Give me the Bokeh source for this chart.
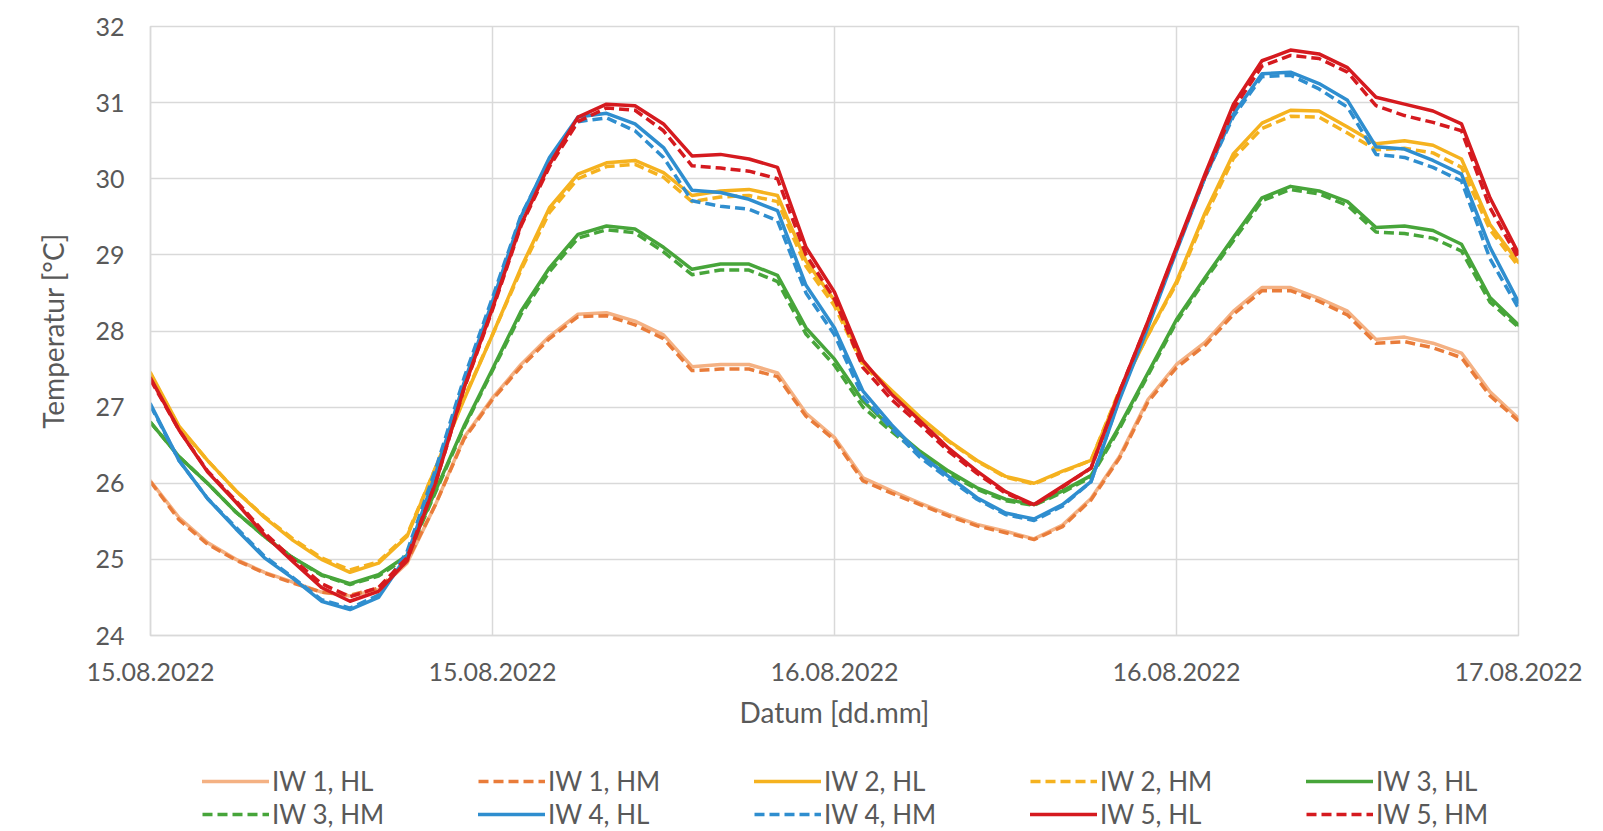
from bokeh.plotting import figure
from bokeh.layouts import column
from bokeh.models import FixedTicker, Legend, LegendItem
from bokeh.embed import file_html
from bokeh.resources import INLINE

# ---- data -------------------------------------------------------------
hours = list(range(49))  # hours since 15.08.2022 00:00
tick_hours = [0, 12, 24, 36, 48]
tick_labels = ["15.08.2022", "15.08.2022", "16.08.2022", "16.08.2022", "17.08.2022"]
y_ticks = [24, 25, 26, 27, 28, 29, 30, 31, 32]

iw1_hl = [26.03, 25.55, 25.22, 25.00, 24.83, 24.70, 24.57, 24.52, 24.60, 24.95,
          25.72, 26.60, 27.12, 27.56, 27.93, 28.22, 28.24, 28.13, 27.95, 27.53,
          27.56, 27.56, 27.45, 26.92, 26.60, 26.07, 25.90, 25.74, 25.59, 25.46,
          25.37, 25.27, 25.45, 25.80, 26.35, 27.10, 27.56, 27.85, 28.26, 28.57,
          28.57, 28.43, 28.26, 27.89, 27.92, 27.84, 27.71, 27.20, 26.85]
iw1_hm = [26.02, 25.52, 25.20, 24.99, 24.82, 24.69, 24.57, 24.53, 24.62, 24.97,
          25.72, 26.58, 27.10, 27.53, 27.90, 28.19, 28.20, 28.08, 27.90, 27.48,
          27.50, 27.50, 27.40, 26.88, 26.57, 26.03, 25.87, 25.72, 25.57, 25.44,
          25.35, 25.26, 25.43, 25.78, 26.33, 27.07, 27.52, 27.81, 28.22, 28.53,
          28.53, 28.39, 28.21, 27.84, 27.86, 27.78, 27.65, 27.15, 26.82]
iw2_hl = [27.45, 26.75, 26.30, 25.90, 25.55, 25.25, 25.00, 24.83, 24.95, 25.30,
          26.20, 27.10, 27.95, 28.83, 29.62, 30.06, 30.21, 30.24, 30.08, 29.78,
          29.84, 29.86, 29.78, 28.92, 28.40, 27.58, 27.22, 26.87, 26.56, 26.30,
          26.09, 26.00, 26.16, 26.30, 27.20, 27.95, 28.65, 29.55, 30.33, 30.73,
          30.90, 30.89, 30.68, 30.46, 30.50, 30.44, 30.26, 29.40, 28.90]
iw2_hm = [27.43, 26.74, 26.30, 25.90, 25.56, 25.27, 25.02, 24.86, 24.97, 25.32,
          26.20, 27.12, 27.95, 28.80, 29.56, 30.00, 30.16, 30.19, 30.02, 29.70,
          29.76, 29.78, 29.70, 28.85, 28.33, 27.55, 27.20, 26.85, 26.55, 26.29,
          26.08, 25.99, 26.15, 26.30, 27.22, 27.95, 28.62, 29.50, 30.27, 30.66,
          30.82, 30.81, 30.60, 30.38, 30.40, 30.34, 30.15, 29.33, 28.85]
iw3_hl = [26.80, 26.35, 26.00, 25.62, 25.30, 25.02, 24.80, 24.68, 24.80, 25.05,
          25.90, 26.75, 27.50, 28.26, 28.83, 29.27, 29.38, 29.34, 29.10, 28.81,
          28.88, 28.88, 28.73, 28.04, 27.63, 27.08, 26.73, 26.42, 26.16, 25.94,
          25.79, 25.72, 25.90, 26.10, 26.75, 27.45, 28.15, 28.70, 29.23, 29.75,
          29.90, 29.84, 29.70, 29.36, 29.38, 29.32, 29.14, 28.44, 28.08]
iw3_hm = [26.80, 26.35, 26.00, 25.62, 25.30, 25.02, 24.79, 24.67, 24.78, 25.03,
          25.88, 26.73, 27.48, 28.22, 28.78, 29.22, 29.33, 29.29, 29.04, 28.74,
          28.80, 28.80, 28.65, 27.96, 27.55, 27.00, 26.68, 26.38, 26.13, 25.92,
          25.77, 25.71, 25.88, 26.08, 26.72, 27.42, 28.12, 28.67, 29.19, 29.71,
          29.86, 29.80, 29.65, 29.30, 29.28, 29.22, 29.05, 28.38, 28.05]
iw4_hl = [27.04, 26.30, 25.80, 25.40, 25.02, 24.75, 24.45, 24.34, 24.50, 25.05,
          26.12, 27.32, 28.39, 29.50, 30.28, 30.81, 30.86, 30.72, 30.41, 29.85,
          29.82, 29.73, 29.58, 28.60, 28.04, 27.21, 26.77, 26.38, 26.09, 25.81,
          25.61, 25.53, 25.72, 26.02, 27.10, 28.05, 29.05, 30.02, 30.85, 31.38,
          31.40, 31.25, 31.03, 30.42, 30.39, 30.24, 30.06, 29.10, 28.38]
iw4_hm = [27.02, 26.30, 25.80, 25.42, 25.04, 24.76, 24.47, 24.36, 24.53, 25.10,
          26.18, 27.38, 28.44, 29.52, 30.25, 30.75, 30.80, 30.63, 30.28, 29.71,
          29.64, 29.60, 29.45, 28.50, 27.95, 27.13, 26.72, 26.34, 26.06, 25.79,
          25.59, 25.51, 25.70, 26.02, 27.12, 28.08, 29.08, 30.02, 30.82, 31.34,
          31.36, 31.18, 30.94, 30.32, 30.28, 30.15, 29.97, 28.95, 28.30]
iw5_hl = [27.38, 26.70, 26.15, 25.75, 25.32, 24.97, 24.63, 24.45, 24.58, 24.98,
          26.00, 27.25, 28.30, 29.40, 30.19, 30.81, 30.98, 30.96, 30.72, 30.30,
          30.32, 30.26, 30.15, 29.10, 28.51, 27.61, 27.17, 26.82, 26.46, 26.16,
          25.89, 25.72, 25.96, 26.20, 27.20, 28.13, 29.10, 30.06, 30.98, 31.55,
          31.69, 31.64, 31.46, 31.07, 30.98, 30.89, 30.72, 29.75, 29.02]
iw5_hm = [27.36, 26.70, 26.16, 25.77, 25.35, 25.00, 24.68, 24.51, 24.63, 25.02,
          26.00, 27.24, 28.28, 29.38, 30.16, 30.75, 30.93, 30.90, 30.63, 30.17,
          30.14, 30.10, 30.00, 29.00, 28.42, 27.52, 27.10, 26.77, 26.42, 26.13,
          25.87, 25.71, 25.95, 26.20, 27.20, 28.12, 29.08, 30.03, 30.92, 31.48,
          31.62, 31.58, 31.40, 30.96, 30.83, 30.74, 30.63, 29.62, 28.95]

series_names = ["IW 1, HL", "IW 1, HM", "IW 2, HL", "IW 2, HM", "IW 3, HL",
                "IW 3, HM", "IW 4, HL", "IW 4, HM", "IW 5, HL", "IW 5, HM"]
series_values = [iw1_hl, iw1_hm, iw2_hl, iw2_hm, iw3_hl,
                 iw3_hm, iw4_hl, iw4_hm, iw5_hl, iw5_hm]
series_colors = ["#F4B183", "#E97C3A", "#F5B21F", "#F5B21F", "#47A53A",
                 "#47A53A", "#2F8ECF", "#2F8ECF", "#D51A1F", "#D51A1F"]
series_dashed = [False, True, False, True, False, True, False, True, False, True]

# ---- styles -----------------------------------------------------------
TXT = "#595959"
GRID = "#D9D9D9"
FONT = "Lato"
LW = 3.5
DASH = "10 5"


def style_kw(col, dashed):
    if dashed:
        return dict(line_color=col, line_width=LW, line_dash=DASH, line_join="round")
    return dict(line_color=col, line_width=LW, line_join="round", line_cap="round")


# ---- main chart -------------------------------------------------------
p = figure(width=1600, height=760, output_backend="svg", toolbar_location=None,
           x_range=(0, 48), y_range=(24, 32),
           min_border_left=150, min_border_right=82,
           min_border_top=26, min_border_bottom=125)
p.background_fill_color = "white"
p.border_fill_color = "white"
p.outline_line_color = GRID
p.outline_line_width = 1.5

for vals, col, dashed in zip(series_values, series_colors, series_dashed):
    p.line(hours, vals, **style_kw(col, dashed))

p.xaxis.ticker = FixedTicker(ticks=tick_hours)
p.xaxis.major_label_overrides = {h: lab for h, lab in zip(tick_hours, tick_labels)}
p.yaxis.ticker = FixedTicker(ticks=y_ticks)
for ax in (p.xaxis[0], p.yaxis[0]):
    ax.axis_line_color = GRID
    ax.axis_line_width = 1.5
    ax.major_tick_line_color = None
    ax.minor_tick_line_color = None
    ax.major_tick_in = 0
    ax.major_tick_out = 0
    ax.minor_tick_in = 0
    ax.minor_tick_out = 0
    ax.major_label_text_font = FONT
    ax.major_label_text_font_size = "25px"
    ax.major_label_text_color = TXT
    ax.axis_label_text_font = FONT
    ax.axis_label_text_font_size = "28px"
    ax.axis_label_text_font_style = "normal"
    ax.axis_label_text_color = TXT

p.xaxis.axis_label = "Datum [dd.mm]"
p.yaxis.axis_label = "Temperatur [°C]"
p.xaxis.major_label_standoff = 27
p.xaxis.axis_label_standoff = 11
p.yaxis.major_label_standoff = 26
p.yaxis.axis_label_standoff = 22

p.xgrid.ticker = FixedTicker(ticks=tick_hours)
p.ygrid.ticker = FixedTicker(ticks=y_ticks)
p.xgrid.grid_line_color = GRID
p.ygrid.grid_line_color = GRID
p.xgrid.grid_line_width = 1.5
p.ygrid.grid_line_width = 1.5

# ---- legend strip (own small figure below the chart) ------------------
# The same series are drawn here too, but far outside this strip's visible
# y-range, so only the legend entries show.
lg = figure(width=1600, height=70, output_backend="svg", toolbar_location=None,
            x_axis_type=None, y_axis_type=None, x_range=(0, 48), y_range=(0, 1),
            min_border_left=150, min_border_right=82, min_border_top=0, min_border_bottom=0)
lg.outline_line_color = None
lg.grid.visible = False
lg.background_fill_color = "white"
lg.border_fill_color = "white"

items = []
for name, vals, col, dashed in zip(series_names, series_values, series_colors, series_dashed):
    r = lg.line(hours, vals, **style_kw(col, dashed))
    items.append(LegendItem(label=name, renderers=[r]))

legend = Legend(items=items, location=(52, 0), orientation="horizontal", ncols=5)
legend.glyph_width = 67
legend.glyph_height = 24
legend.label_height = 24
legend.label_width = 205
legend.label_standoff = 3
legend.spacing = 1
legend.padding = 0
legend.margin = 0
legend.border_line_color = None
legend.background_fill_alpha = 0
legend.label_text_font = FONT
legend.label_text_font_size = "26px"
legend.label_text_color = TXT
lg.add_layout(legend, "center")

layout = column(p, lg, spacing=0)
open("out.html", "w").write(file_html(layout, INLINE))
